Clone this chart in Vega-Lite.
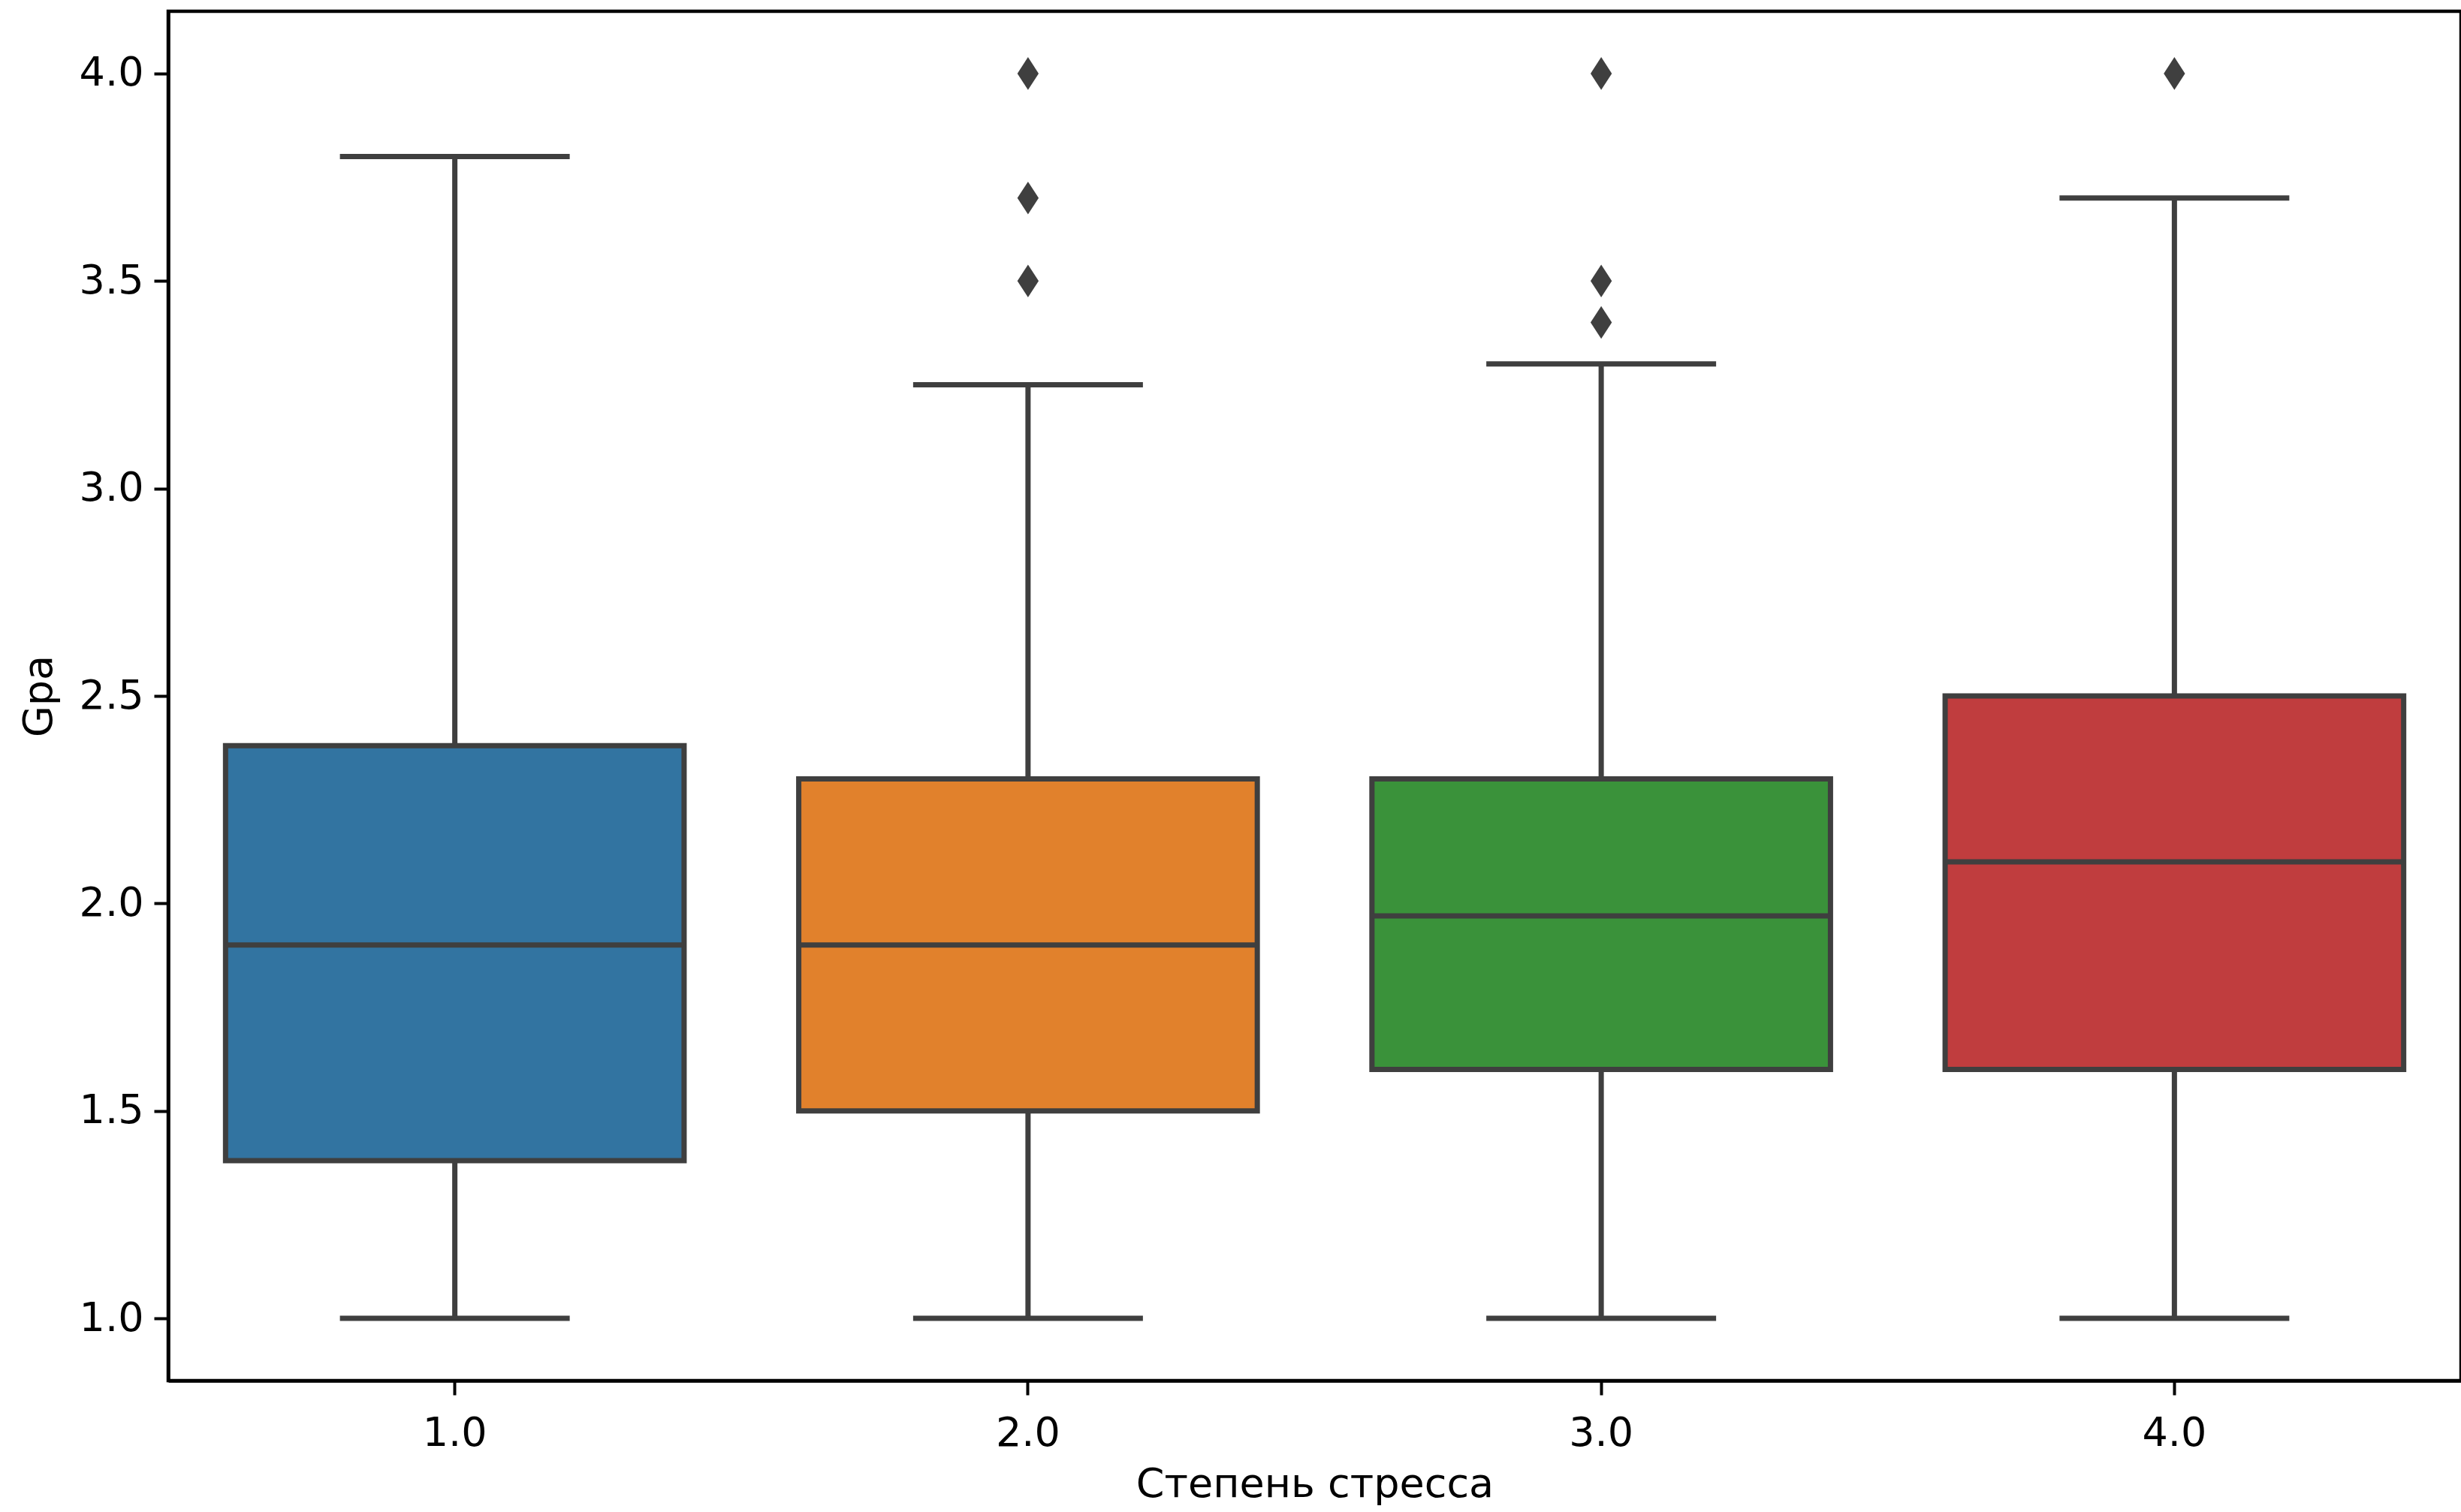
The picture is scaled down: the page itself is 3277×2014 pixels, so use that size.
{
  "$schema": "https://vega.github.io/schema/vega-lite/v6.json",
  "autosize": {"type": "none"},
  "padding": {"left": 224, "top": 15, "right": 0, "bottom": 175},
  "width": 3053,
  "height": 1824,
  "background": "white",
  "config": {
    "view": {"stroke": "black", "strokeWidth": 4.5},
    "font": "DejaVu Sans",
    "axis": {
      "labelFont": "DejaVu Sans",
      "titleFont": "DejaVu Sans",
      "labelFontSize": 54,
      "titleFontSize": 54,
      "titleFontWeight": "normal",
      "labelColor": "black",
      "titleColor": "black",
      "domainColor": "black",
      "domainWidth": 4.5,
      "tickColor": "black",
      "tickWidth": 4,
      "tickSize": 19,
      "grid": false
    }
  },
  "datasets": {
    "boxes": [
      {"stress": "1.0", "lower": 1.0, "q1": 1.38, "median": 1.9, "q3": 2.38, "upper": 3.8},
      {"stress": "2.0", "lower": 1.0, "q1": 1.5, "median": 1.9, "q3": 2.3, "upper": 3.25},
      {"stress": "3.0", "lower": 1.0, "q1": 1.6, "median": 1.97, "q3": 2.3, "upper": 3.3},
      {"stress": "4.0", "lower": 1.0, "q1": 1.6, "median": 2.1, "q3": 2.5, "upper": 3.7}
    ],
    "outliers": [
      {"stress": "2.0", "gpa": 4.0},
      {"stress": "2.0", "gpa": 3.7},
      {"stress": "2.0", "gpa": 3.5},
      {"stress": "3.0", "gpa": 4.0},
      {"stress": "3.0", "gpa": 3.5},
      {"stress": "3.0", "gpa": 3.4},
      {"stress": "4.0", "gpa": 4.0}
    ]
  },
  "encoding": {
    "x": {
      "field": "stress",
      "type": "nominal",
      "sort": ["1.0", "2.0", "3.0", "4.0"],
      "scale": {"domain": ["1.0", "2.0", "3.0", "4.0"], "paddingInner": 0, "paddingOuter": 0},
      "axis": {"title": "Степень стресса", "labelAngle": 0, "labelPadding": 24, "titlePadding": 14}
    }
  },
  "layer": [
    {
      "data": {"name": "boxes"},
      "mark": {"type": "rule", "stroke": "#3f3f3f", "strokeWidth": 7},
      "encoding": {
        "y": {
          "field": "upper", "type": "quantitative",
          "scale": {"domain": [0.85, 4.15], "nice": false, "zero": false},
          "axis": {"title": "Gpa", "values": [1, 1.5, 2, 2.5, 3, 3.5, 4], "format": ".1f", "labelPadding": 14, "titlePadding": 26}
        },
        "y2": {"field": "q3"}
      }
    },
    {
      "data": {"name": "boxes"},
      "mark": {"type": "rule", "stroke": "#3f3f3f", "strokeWidth": 7},
      "encoding": {
        "y": {"field": "q1", "type": "quantitative"},
        "y2": {"field": "lower"}
      }
    },
    {
      "data": {"name": "boxes"},
      "mark": {"type": "tick", "orient": "horizontal", "color": "#3f3f3f", "size": 306, "thickness": 7, "opacity": 1},
      "encoding": {"y": {"field": "upper", "type": "quantitative"}}
    },
    {
      "data": {"name": "boxes"},
      "mark": {"type": "tick", "orient": "horizontal", "color": "#3f3f3f", "size": 306, "thickness": 7, "opacity": 1},
      "encoding": {"y": {"field": "lower", "type": "quantitative"}}
    },
    {
      "data": {"name": "boxes"},
      "mark": {"type": "bar", "width": {"band": 0.8}, "stroke": "#3f3f3f", "strokeWidth": 7, "opacity": 1},
      "encoding": {
        "y": {"field": "q1", "type": "quantitative"},
        "y2": {"field": "q3"},
        "color": {
          "field": "stress", "type": "nominal",
          "scale": {"domain": ["1.0", "2.0", "3.0", "4.0"], "range": ["#3274a1", "#e1812c", "#3a923a", "#c03d3e"]},
          "legend": null
        }
      }
    },
    {
      "data": {"name": "boxes"},
      "mark": {"type": "tick", "orient": "horizontal", "color": "#3f3f3f", "size": 610, "thickness": 7, "opacity": 1},
      "encoding": {"y": {"field": "median", "type": "quantitative"}}
    },
    {
      "data": {"name": "outliers"},
      "mark": {"type": "point", "shape": "M0,-1L0.65,0L0,1L-0.65,0Z", "filled": true, "color": "#3f3f3f", "size": 1900, "opacity": 1},
      "encoding": {"y": {"field": "gpa", "type": "quantitative"}}
    }
  ]
}
